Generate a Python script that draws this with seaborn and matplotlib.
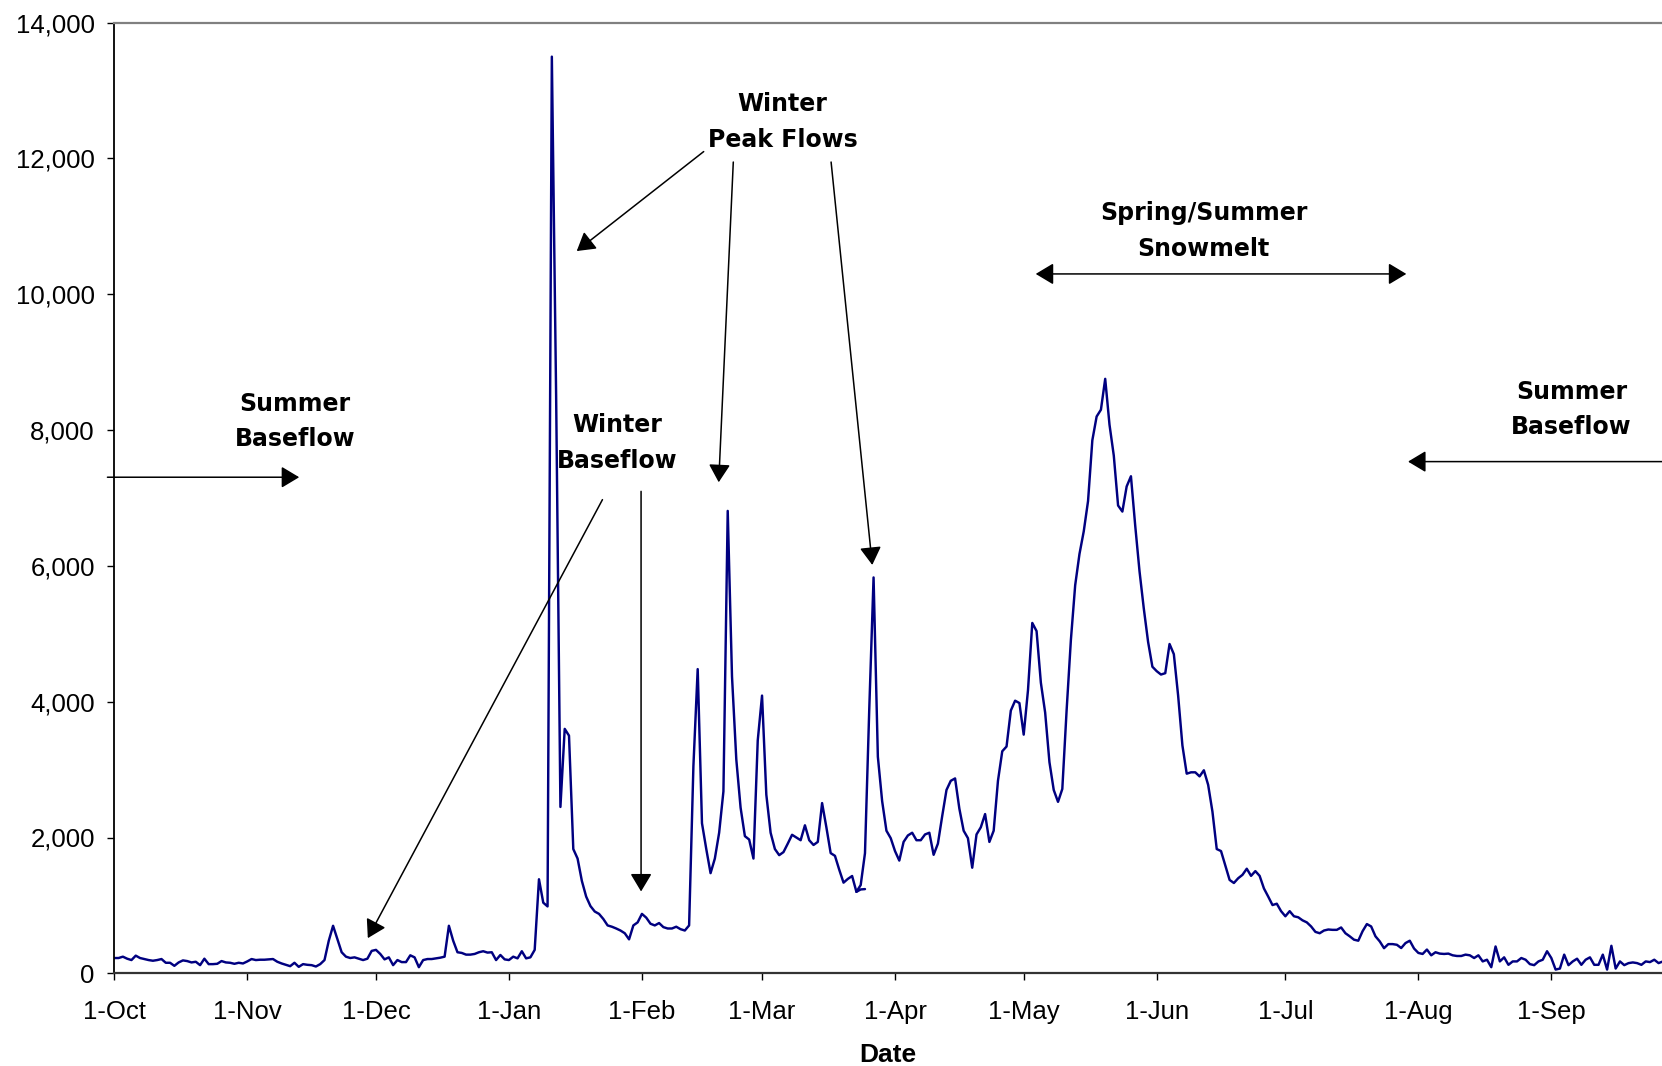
import numpy as np
import pandas as pd
import matplotlib
matplotlib.use("Agg")
import matplotlib.pyplot as plt
import seaborn as sns
from matplotlib.ticker import FuncFormatter

# ---- daily flow (cfs), water year Oct 1 - Sep 30 ----
oct_flow = [225, 225, 245, 215, 195, 260, 225, 210, 195, 185,
            195, 210, 155, 155, 110, 160, 190, 180, 160, 170,
            120, 215, 135, 135, 140, 180, 160, 155, 140, 155, 145]
nov_flow = [175, 210, 195, 200, 200, 205, 210, 170, 145, 125,
            105, 155, 95, 135, 125, 120, 100, 135, 195, 480,
            700, 505, 310, 245, 225, 235, 215, 195, 215, 330]
dec_flow = [345, 285, 205, 235, 120, 195, 165, 165, 265, 235,
            90, 195, 210, 210, 220, 230, 245, 700, 480, 310,
            300, 275, 275, 285, 310, 325, 305, 310, 195, 270, 205]
jan_flow = [195, 245, 220, 325, 220, 235, 345, 1385, 1040, 985,
            13500, 8500, 2450, 3600, 3500, 1830, 1690, 1360, 1130, 990,
            910, 875, 800, 705, 686, 660, 630, 590, 500, 705, 750]
feb_flow = [875, 820, 730, 705, 740, 680, 660, 660, 686, 650,
            630, 705, 3050, 4480, 2210, 1830, 1475, 1690, 2070, 2680,
            6810, 4370, 3150, 2440, 2020, 1970, 1690, 3430]
mar_flow = [4090, 2630, 2070, 1830, 1740, 1785, 1910, 2040, 2000, 1960,
            2180, 1960, 1890, 1935, 2507, 2150, 1770, 1730, 1525, 1335,
            1390, 1433, 1200, 1300, 1770, 3900, 5830, 3190, 2535, 2100, 1990]
apr_flow = [1800, 1660, 1935, 2030, 2070, 1960, 1960, 2045, 2070, 1745,
            1910, 2315, 2700, 2835, 2870, 2425, 2100, 1990, 1555, 2045,
            2150, 2345, 1935, 2100, 2835, 3270, 3340, 3870, 4015, 3980]
may_flow = [3515, 4170, 5160, 5040, 4280, 3840, 3110, 2700, 2525, 2715,
            3870, 4910, 5715, 6175, 6510, 6955, 7850, 8200, 8300, 8755,
            8080, 7625, 6890, 6800, 7170, 7320, 6590, 5920, 5370, 4880, 4515]
jun_flow = [4450, 4400, 4420, 4850, 4700, 4090, 3355, 2940, 2960, 2960,
            2900, 2990, 2775, 2380, 1830, 1800, 1585, 1375, 1330, 1400,
            1450, 1540, 1435, 1505, 1435, 1250, 1130, 1005, 1025, 915]
jul_flow = [840, 915, 840, 825, 780, 750, 690, 610, 590, 630,
            645, 640, 640, 675, 590, 545, 495, 480, 620, 725,
            690, 545, 470, 370, 430, 430, 420, 372, 445, 480, 365]
aug_flow = [300, 285, 350, 265, 310, 290, 285, 290, 265, 255,
            255, 275, 265, 225, 265, 175, 200, 90, 395, 175,
            235, 125, 175, 175, 225, 200, 135, 120, 175, 200, 325]
sep_flow = [225, 55, 70, 275, 120, 175, 215, 125, 200, 235,
            125, 125, 275, 55, 405, 70, 175, 120, 150, 160,
            150, 125, 175, 165, 200, 150, 175, 180, 170, 175]

# short overlapping record segment near late March
hook_day = [173, 174, 175]
hook_flow = [1200, 1235, 1240]

start_date = "2002-10-01"
y_ticks = [0, 2000, 4000, 6000, 8000, 10000, 12000, 14000]

flow = np.array(oct_flow + nov_flow + dec_flow + jan_flow + feb_flow + mar_flow +
                apr_flow + may_flow + jun_flow + jul_flow + aug_flow + sep_flow, dtype=float)
dates = pd.date_range(start_date, periods=len(flow), freq="D")
df = pd.DataFrame({"day": np.arange(len(flow)), "flow": flow})

month_idx = [i for i, d in enumerate(dates) if d.day == 1]
month_lbl = [f"{dates[i].day}-{dates[i].strftime('%b')}" for i in month_idx]

sns.set_theme(style="white")
plt.rcParams["font.family"] = ["Liberation Sans", "DejaVu Sans"]

W, H = 1662, 1066
fig = plt.figure(figsize=(W / 100, H / 100), dpi=100)
x0, x1, y0, y1 = 114.3, 1662, 22.7, 973.3
ax = fig.add_axes([x0 / W, 1 - y1 / H, (x1 - x0) / W, (y1 - y0) / H])

sns.lineplot(data=df, x="day", y="flow", color="#000080", lw=1.75, ax=ax, estimator=None)
sns.lineplot(x=hook_day, y=hook_flow, color="#000080", lw=1.75, ax=ax, estimator=None)

ax.set_xlim(0, 360.8)
ax.set_ylim(0, 14000)
ax.set_xticks(month_idx)
ax.set_xticklabels(month_lbl)
ax.set_yticks(y_ticks)
ax.yaxis.set_major_formatter(FuncFormatter(lambda v, p: f"{v:,.0f}"))
ax.tick_params(axis="both", which="major", direction="out", length=5, width=1,
               color="black", labelsize=18.5, labelcolor="black", bottom=True, left=True)
ax.tick_params(axis="y", pad=9)
ax.tick_params(axis="x", pad=14)
ax.set_ylabel("")
ax.set_xlabel("Date", fontsize=19, fontweight="bold", labelpad=14, color="black")

ax.spines["right"].set_visible(False)
ax.spines["top"].set_color("#808080")
ax.spines["top"].set_linewidth(1.6)
ax.spines["left"].set_color("black")
ax.spines["left"].set_linewidth(1.3)
ax.spines["bottom"].set_color("#333333")
ax.spines["bottom"].set_linewidth(1.6)

tfont = dict(fontsize=17, fontweight="bold", family="DejaVu Sans",
             ha="center", va="center", linespacing=1.6, color="black")
arrow = dict(arrowstyle="-|>,head_length=0.5,head_width=0.3", color="black",
             lw=1.1, shrinkA=0, shrinkB=0, mutation_scale=22)
darrow = dict(arrowstyle="<|-|>,head_length=0.5,head_width=0.3", color="black",
              lw=1.1, shrinkA=0, shrinkB=0, mutation_scale=22)

def arr(xy_from, xy_to, props=arrow):
    ax.annotate("", xy=xy_to, xytext=xy_from, arrowprops=props,
                annotation_clip=False, xycoords="data", textcoords="data")

ax.text(42.1, 8130, "Summer\nBaseflow", **tfont)
arr((-1.6, 7306), (43.1, 7306))

ax.text(339.7, 8300, "Summer\nBaseflow", **tfont)
arr((360.8, 7536), (301.6, 7536))

ax.text(254.0, 10930, "Spring/Summer\nSnowmelt", **tfont)
arr((214.8, 10300), (301.2, 10300), darrow)

ax.text(155.8, 12540, "Winter\nPeak Flows", **tfont)
arr((137.4, 12102), (107.8, 10637))
arr((144.3, 11948), (140.9, 7232))
arr((167.1, 11948), (176.7, 6014))

ax.text(117.3, 7810, "Winter\nBaseflow", **tfont)
arr((113.8, 6976), (59.1, 518))
arr((122.8, 7098), (122.8, 1205))

fig.savefig("out.png", dpi=100)
